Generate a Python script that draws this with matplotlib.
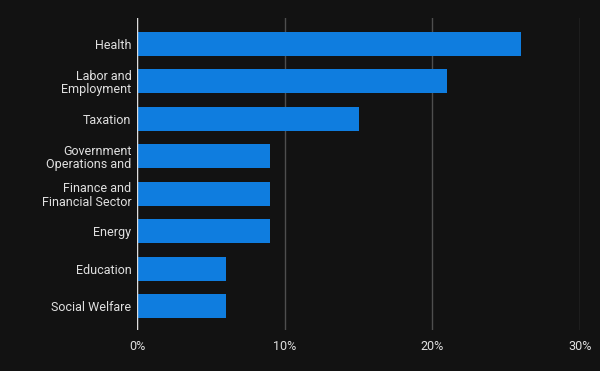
import matplotlib
matplotlib.use('Agg')
import matplotlib.pyplot as plt
from matplotlib.ticker import FuncFormatter

plt.rcParams['font.family'] = ['Roboto', 'DejaVu Sans']

categories = ['Health', 'Labor and\nEmployment', 'Taxation', 'Government\nOperations and',
              'Finance and\nFinancial Sector', 'Energy', 'Education', 'Social Welfare']
shares = [26, 21, 15, 9, 9, 9, 6, 6]
xticks = [0, 10, 20, 30]

bg = '#121212'
fig = plt.figure(figsize=(6, 3.71), dpi=100, facecolor=bg)
ax = fig.add_axes([0.2283, 0.1105, 0.7384, 0.841])
ax.set_facecolor(bg)

ypos = list(range(len(categories)))
ax.barh(ypos, shares, height=0.64, color='#0f7ddf', zorder=3)

ax.set_xlim(0, 30)
ax.set_ylim(7.64, -0.695)
ax.set_xticks(xticks)
ax.xaxis.set_major_formatter(FuncFormatter(lambda v, p: f'{v:.0f}%'))
ax.set_yticks(ypos)
ax.set_yticklabels(categories, linespacing=1.05)

ax.grid(axis='x', color='#4e4e4e', linewidth=1, zorder=0)
ax.axvline(0, color='#dddddd', linewidth=1, zorder=4)
for s in ax.spines.values():
    s.set_visible(False)
ax.tick_params(axis='both', length=0, colors='#e0e0e0', labelsize=9)
ax.tick_params(axis='y', pad=4)
ax.tick_params(axis='x', pad=7)

fig.savefig('out.png', dpi=100, facecolor=bg)
